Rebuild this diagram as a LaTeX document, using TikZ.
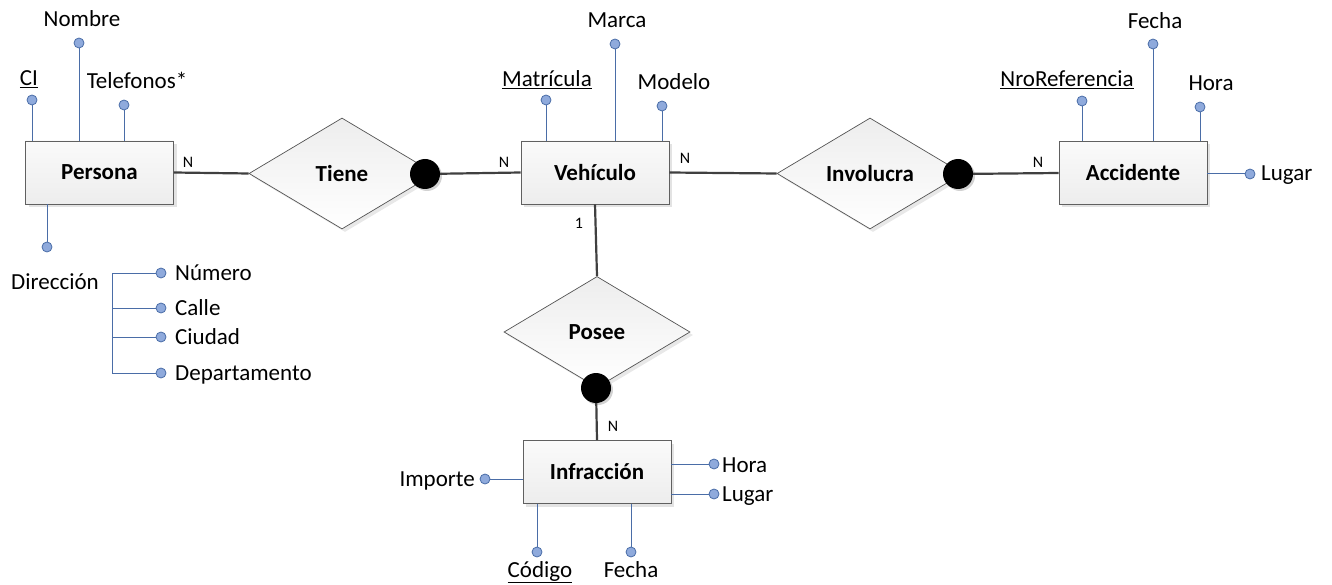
\documentclass[tikz,border=0pt]{standalone}
\usepackage{fontspec}
\setmainfont{Carlito}
\usetikzlibrary{shapes.geometric,shadows}

\definecolor{attrblue}{HTML}{4A6DA7}
\definecolor{dotblue}{HTML}{8FAADC}
\definecolor{linegray}{HTML}{404040}

\newcommand{\erfont}{\fontsize{23}{27}\selectfont}

\tikzset{
    entity/.style={rectangle, draw=gray!75!black, line width=0.9pt, minimum width=148pt, minimum height=63pt, top color=gray!4, bottom color=gray!14, drop shadow={shadow xshift=3pt, shadow yshift=-3pt, fill=gray!22, opacity=1}, font=\erfont\bfseries},
    relation/.style={diamond, draw=gray!65!black, line width=0.7pt, minimum width=186pt, minimum height=111pt, inner sep=0pt, top color=gray!14, bottom color=white, drop shadow={shadow xshift=3pt, shadow yshift=-3pt, fill=gray!18, opacity=1}, font=\erfont\bfseries},
    joint/.style={circle, fill=black, minimum size=30pt, inner sep=0pt, drop shadow={shadow xshift=2pt, shadow yshift=-2pt, fill=gray!35, opacity=1}},
    dot/.style={circle, draw=attrblue, fill=dotblue, line width=0.8pt, minimum size=10pt, inner sep=0pt},
    attr/.style={draw=attrblue, line width=1pt},
    rel/.style={draw=linegray, line width=2.2pt},
    lbl/.style={inner sep=0pt, anchor=base},
    card/.style={inner sep=0pt, font=\fontsize{16}{18}\selectfont},
}

\begin{document}
\begin{tikzpicture}[x=1pt, y=-1pt, font=\erfont]
    \useasboundingbox (0,0) rectangle (1332,585);

    % Entities
    \node[entity] (persona) at (99.5,172.5) {Persona};
    \node[entity] (vehiculo) at (595,172.5) {Vehículo};
    \node[entity] (accidente) at (1133,173) {Accidente};
    \node[entity] (infraccion) at (597,472) {Infracción};

    % Relations
    \node[relation] (tiene) at (342,173.5) {Tiene};
    \node[relation] (involucra) at (870,173.5) {Involucra};
    \node[relation] (posee) at (597,332) {Posee};
    \node[joint] (tienec) at (425,174) {};
    \node[joint] (involucrac) at (958,174) {};
    \node[joint] (poseec) at (596,388) {};

    \draw[rel] (persona.east) -- (tiene.west);
    \draw[rel] (tienec) -- (vehiculo.west);
    \draw[rel] (vehiculo.east) -- (involucra.west);
    \draw[rel] (involucrac) -- (accidente.west);
    \draw[rel] (vehiculo.south) -- (posee.north);
    \draw[rel] (poseec) -- (infraccion.north);

    % Cardinalities
    \node[card] (cardpt) at (188,162) {N};
    \node[card] (cardvt) at (504,162) {N};
    \node[card] (cardvi) at (685,158) {N};
    \node[card] (cardai) at (1038,162) {N};
    \node[card] (cardvp) at (579,223) {1};
    \node[card] (cardip) at (613,426) {N};

    % Persona attributes
    \node[dot] (cidot) at (32,100) {};
    \node[dot] (nombredot) at (79,43) {};
    \node[dot] (telefonosdot) at (124,105) {};
    \node[dot] (direcciondot) at (47,247) {};
    \node[lbl] (ci) at (29,86) {\underline{CI}};
    \node[lbl] (nombre) at (82,27) {Nombre};
    \node[lbl] (telefonos) at (137,89) {Telefonos*};
    \node[lbl] (direccion) at (55,289) {Dirección};
    \draw[attr] (persona.north -| cidot) -- (cidot);
    \draw[attr] (persona.north -| nombredot) -- (nombredot);
    \draw[attr] (persona.north -| telefonosdot) -- (telefonosdot);
    \draw[attr] (persona.south -| direcciondot) -- (direcciondot);

    % Direccion parts
    \coordinate (dirtop) at (112,273);
    \coordinate (dirbot) at (112,373);
    \node[dot] (numerodot) at (161,273) {};
    \node[dot] (calledot) at (161,308) {};
    \node[dot] (ciudaddot) at (161,337) {};
    \node[dot] (deptodot) at (161,373) {};
    \node[lbl, anchor=base west] (numero) at (175,280) {Número};
    \node[lbl, anchor=base west] (calle) at (175,315) {Calle};
    \node[lbl, anchor=base west] (ciudad) at (175,344) {Ciudad};
    \node[lbl, anchor=base west] (depto) at (175,380) {Departamento};
    \draw[attr] (numerodot) -- (dirtop) -- (dirbot) -- (deptodot);
    \draw[attr] (calledot -| dirtop) -- (calledot);
    \draw[attr] (ciudaddot -| dirtop) -- (ciudaddot);

    % Vehiculo attributes
    \node[dot] (matriculadot) at (546,100) {};
    \node[dot] (marcadot) at (615,44) {};
    \node[dot] (modelodot) at (662,106) {};
    \node[lbl] (matricula) at (547,87) {\underline{Matrícula}};
    \node[lbl] (marca) at (617,28) {Marca};
    \node[lbl] (modelo) at (674,90) {Modelo};
    \draw[attr] (vehiculo.north -| matriculadot) -- (matriculadot);
    \draw[attr] (vehiculo.north -| marcadot) -- (marcadot);
    \draw[attr] (vehiculo.north -| modelodot) -- (modelodot);

    % Accidente attributes
    \node[dot] (nrorefdot) at (1082,101) {};
    \node[dot] (fechaadot) at (1153,44) {};
    \node[dot] (horaadot) at (1200,107) {};
    \node[dot] (lugaradot) at (1250,174) {};
    \node[lbl] (nroref) at (1067,87) {\underline{NroReferencia}};
    \node[lbl] (fechaa) at (1155,29) {Fecha};
    \node[lbl] (horaa) at (1211,91) {Hora};
    \node[lbl, anchor=base west] (lugara) at (1261,181) {Lugar};
    \draw[attr] (accidente.north -| nrorefdot) -- (nrorefdot);
    \draw[attr] (accidente.north -| fechaadot) -- (fechaadot);
    \draw[attr] (accidente.north -| horaadot) -- (horaadot);
    \draw[attr] (accidente.east |- lugaradot) -- (lugaradot);

    % Infraccion attributes
    \node[dot] (importedot) at (485,479) {};
    \node[dot] (horaidot) at (714,464) {};
    \node[dot] (lugaridot) at (714,494) {};
    \node[dot] (codigodot) at (537,552) {};
    \node[dot] (fechaidot) at (631,552) {};
    \node[lbl, anchor=base east] (importe) at (475,486) {Importe};
    \node[lbl, anchor=base west] (horai) at (722,472) {Hora};
    \node[lbl, anchor=base west] (lugari) at (722,501) {Lugar};
    \node[lbl] (codigo) at (540,577) {\underline{Código}};
    \node[lbl] (fechai) at (631,577) {Fecha};
    \draw[attr] (infraccion.west |- importedot) -- (importedot);
    \draw[attr] (infraccion.east |- horaidot) -- (horaidot);
    \draw[attr] (infraccion.east |- lugaridot) -- (lugaridot);
    \draw[attr] (infraccion.south -| codigodot) -- (codigodot);
    \draw[attr] (infraccion.south -| fechaidot) -- (fechaidot);
\end{tikzpicture}
\end{document}
